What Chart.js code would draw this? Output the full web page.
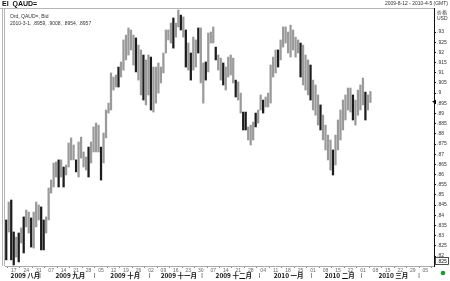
<!DOCTYPE html>
<html><head><meta charset="utf-8">
<script src="https://cdn.jsdelivr.net/npm/chart.js@4/dist/chart.umd.min.js"></script>
<style>html,body{margin:0;padding:0;background:#fff;overflow:hidden}canvas{display:block}</style>
</head><body><canvas id="c" width="450" height="281"></canvas>
<script>
// ---- data ----
const firstDay = '2009-08-12';
const lastAxisDay = '2010-04-08';
const highs = [
.8377,.8465,.8475,.8318,.8293,.8313,.8338,.8392,.8426,.8416,
.8387,.8416,.8465,.8451,.8441,.8377,.8392,.8534,.8573,.8657,
.8662,.8672,.8672,.8637,.8647,.8755,.8780,.8745,.8672,.8760,
.8784,.8711,.8686,.8735,.8760,.8834,.8853,.8843,.8735,.8804,
.8917,.8951,.9099,.9079,.9089,.9128,.9153,.9261,.9285,.9320,
.9310,.9285,.9271,.9236,.9212,.9187,.9163,.9187,.9177,.9128,
.9128,.9148,.9128,.9197,.9310,.9310,.9344,.9369,.9344,.9408,
.9383,.9374,.9310,.9246,.9197,.9275,.9261,.9320,.9320,.9148,
.9153,.9295,.9300,.9325,.9226,.9187,.9172,.9148,.9128,.9177,
.9187,.9172,.9064,.9055,.9000,.8907,.8907,.8834,.8843,.8858,
.8902,.8917,.8991,.8966,.8981,.9000,.9138,.9177,.9212,.9212,
.9261,.9325,.9325,.9300,.9334,.9310,.9275,.9261,.9246,.9236,
.9187,.9163,.9138,.9064,.9040,.8991,.8942,.8892,.8843,.8794,
.8770,.8721,.8794,.8868,.8917,.8966,.8991,.9025,.9025,.8991,
.8966,.9015,.9040,.9074,.9005,.8991,.9008];
const lows = [
.8181,.8318,.8181,.8156,.8195,.8171,.8264,.8215,.8343,.8313,
.8244,.8239,.8343,.8377,.8230,.8230,.8313,.8377,.8509,.8539,
.8588,.8539,.8588,.8539,.8598,.8637,.8672,.8672,.8613,.8588,
.8681,.8637,.8622,.8588,.8657,.8711,.8711,.8711,.8573,.8657,
.8780,.8902,.8917,.9015,.9030,.9030,.9079,.9113,.9163,.9187,
.9212,.9138,.9104,.9064,.8991,.8966,.8942,.8991,.8917,.8907,
.8951,.9000,.9050,.9099,.9197,.9261,.9246,.9221,.9275,.9325,
.9310,.9275,.9128,.9113,.9064,.9113,.9128,.9197,.9050,.8951,
.9064,.9104,.9246,.9246,.9163,.9113,.9064,.9040,.9015,.9079,
.9089,.9050,.8981,.8966,.8902,.8819,.8819,.8770,.8745,.8770,
.8834,.8853,.8917,.8902,.8932,.8932,.8951,.9079,.9099,.9128,
.9163,.9226,.9246,.9197,.9177,.9212,.9177,.9197,.9079,.9040,
.9015,.8991,.8966,.8917,.8892,.8843,.8819,.8770,.8721,.8672,
.8622,.8598,.8647,.8721,.8770,.8819,.8868,.8917,.8907,.8868,
.8843,.8892,.8917,.8942,.8868,.8917,.8954];
const darkBars = [0,2,3,5,7,10,14,15,21,23,28,33,38,45,52,55,58,67,70,72,74,77,80,84,87,92,95,96,100,103,109,118,122,126,131,139,144];
const lastBar = {date:'2010-3-1', open:.8959, high:.9008, low:.8954, close:.8957};
const yTicks = [.82,.825,.83,.835,.84,.845,.85,.855,.86,.865,.87,.875,.88,.885,.89,.895,.9,.905,.91,.915,.92,.925,.93];
const weekTickDates = ['2009-08-17','2009-08-24','2009-08-31','2009-09-07','2009-09-14','2009-09-21','2009-09-28','2009-10-05','2009-10-12','2009-10-19','2009-10-26','2009-11-02','2009-11-09','2009-11-16','2009-11-23','2009-11-30','2009-12-07','2009-12-14','2009-12-21','2009-12-28','2010-01-04','2010-01-11','2010-01-18','2010-01-25','2010-02-01','2010-02-08','2010-02-15','2010-02-22','2010-03-01','2010-03-08','2010-03-15','2010-03-22','2010-03-29','2010-04-05'];
const weekTickLabels = ['17','24','31','07','14','21','28','05','12','19','26','02','09','16','23','30','07','14','21','28','04','11','18','25','01','08','15','22','01','08','15','22','29','05'];
const monthKeys = ['2009-08','2009-09','2009-10','2009-11','2009-12','2010-01','2010-02','2010-03'];
const monthLabels = ['2009 八月','2009 九月','2009 十月','2009 十一月','2009 十二月','2010 一月','2010 二月','2010 三月'];

// ---- categories (weekdays) ----
const categories = [];
{
  let d = new Date(firstDay + 'T00:00:00Z');
  const end = new Date(lastAxisDay + 'T00:00:00Z');
  while (d <= end) {
    const wd = d.getUTCDay();
    if (wd !== 0 && wd !== 6) categories.push(d.toISOString().slice(0,10));
    d = new Date(d.getTime() + 86400000);
  }
}
const tickMap = {};
weekTickDates.forEach((d,i)=>tickMap[d]=weekTickLabels[i]);

const GREY = '#9a9a9a', DARK = '#1c1c1c';
const barColors = highs.map((h,i)=> darkBars.includes(i) ? DARK : GREY);

const FONT = 'Liberation Sans, Arial, sans-serif';

const decor = {
  id:'decor',
  afterDraw(chart){
    const {ctx, chartArea:a, scales:{x,y}} = chart;
    ctx.save();
    ctx.strokeStyle = '#b5b5b5'; ctx.lineWidth = 1;
    ctx.beginPath(); ctx.moveTo(0, a.top+0.5); ctx.lineTo(a.right, a.top+0.5); ctx.stroke();
    ctx.beginPath(); ctx.moveTo(2.5, a.top); ctx.lineTo(2.5, a.bottom); ctx.stroke();
    ctx.beginPath(); ctx.moveTo(4.5, a.top); ctx.lineTo(4.5, a.bottom); ctx.stroke();
    ctx.fillStyle = '#111'; ctx.textBaseline = 'middle'; ctx.textAlign = 'left';
    ctx.font = 'bold 7px ' + FONT;
    ctx.fillText('EI  QAUD=', 2, 4.5);
    ctx.font = '5px ' + FONT; ctx.fillStyle = '#333';
    ctx.textAlign = 'right';
    ctx.fillText('2009-8-12 - 2010-4-5 (GMT)', 448, 3.5);
    ctx.textAlign = 'left'; ctx.fillStyle = '#333';
    ctx.fillText('Ord, QAUD=, Bid', 10, 17);
    ctx.fillText(lastBar.date + ', .' + String(lastBar.open).slice(2) + ', .' + String(lastBar.high).slice(2) + ', .' + String(lastBar.low).slice(2) + ', .' + String(lastBar.close).slice(2), 10, 23.5);
    ctx.font = '5px "Noto Sans CJK SC", sans-serif';
    ctx.fillText('价格', 437, 12);
    ctx.font = '5px ' + FONT;
    ctx.fillText('USD', 437, 19);
    const yp = y.getPixelForValue(lastBar.close);
    ctx.fillStyle = '#000';
    ctx.beginPath(); ctx.moveTo(a.right-2, yp); ctx.lineTo(a.right+2, yp-2); ctx.lineTo(a.right+2, yp+2); ctx.closePath(); ctx.fill();
    ctx.strokeStyle = '#222'; ctx.lineWidth = 0.8;
    ctx.strokeRect(435.5, 257.5, 13, 7);
    ctx.fillStyle = '#111'; ctx.textAlign = 'center';
    ctx.fillText('.825', 442, 261.5);
    ctx.fillStyle = '#1d9a2b';
    ctx.beginPath(); ctx.arc(443, 273, 2.3, 0, Math.PI*2); ctx.fill();
    ctx.fillStyle = '#111'; ctx.textAlign = 'center';
    const step = x.getPixelForValue(1) - x.getPixelForValue(0);
    monthKeys.forEach((mk, i) => {
      const idx = categories.map((c,j)=>c.startsWith(mk)?j:-1).filter(j=>j>=0);
      const x0 = x.getPixelForValue(idx[0]), x1 = x.getPixelForValue(idx[idx.length-1]);
      ctx.font = 'bold 6.5px "Noto Sans CJK SC", sans-serif';
      ctx.fillText(monthLabels[i], (x0+x1)/2 + 3, 275.5);
      const nxt = idx[idx.length-1] + 1;
      const xs = x.getPixelForValue(nxt) - step/2;
      ctx.font = '6px ' + FONT;
      ctx.fillText('|', xs, 275.5);
    });
    ctx.restore();
  }
};

new Chart(document.getElementById('c'), {
  type:'bar',
  data:{
    labels: categories,
    datasets:[{
      data: highs.map((h,i)=>[lows[i], h]),
      backgroundColor: barColors,
      borderWidth: 0,
      barThickness: 1.6,
      grouped: false
    }]
  },
  options:{
    responsive:false, animation:false, maintainAspectRatio:false,
    layout:{padding:{left:5, top:8, right:0, bottom:0}},
    plugins:{legend:{display:false}, tooltip:{enabled:false}},
    scales:{
      x:{
        type:'category', offset:true,
        border:{display:true, color:'#aaa'},
        grid:{drawOnChartArea:false, tickLength:2, color:'#888'},
        ticks:{
          autoSkip:false, maxRotation:0, minRotation:0, padding:0,
          font:{size:5, family:FONT}, color:'#666',
          callback(v){ const d = this.getLabelForValue(v); return tickMap[d] !== undefined ? tickMap[d] : null; }
        },
        afterFit(s){ s.height = 15; }
      },
      y:{
        position:'right', min:.8151, max:.9418,
        border:{display:true, color:'#111'},
        grid:{drawOnChartArea:false, tickLength:2, color:'#111'},
        afterBuildTicks(s){ s.ticks = yTicks.map(v=>({value:v})); },
        ticks:{
          padding:1, font:{size:5, family:FONT}, color:'#333',
          callback(v){ return v.toFixed(3).replace(/0+$/,'').replace(/^0/,''); }
        },
        afterFit(s){ s.width = 16; }
      }
    }
  },
  plugins:[decor]
});
</script>
</body></html>
